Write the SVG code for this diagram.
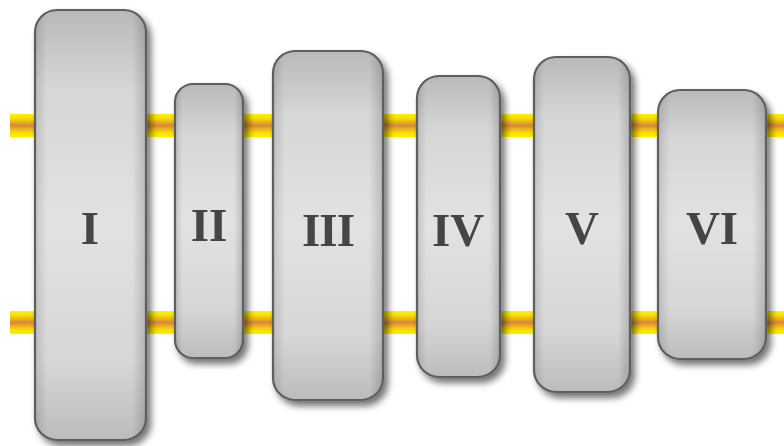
<svg xmlns="http://www.w3.org/2000/svg" width="784" height="446" viewBox="0 0 784 446">
<defs>
<linearGradient id="bar" x1="0" y1="0" x2="0" y2="1">
<stop offset="0" stop-color="#fff200"/>
<stop offset="0.2" stop-color="#f9dc00"/>
<stop offset="0.5" stop-color="#d8883c"/>
<stop offset="0.8" stop-color="#f9dc00"/>
<stop offset="1" stop-color="#fff200"/>
</linearGradient>
<linearGradient id="fv" x1="0" y1="0" x2="0" y2="1">
<stop offset="0" stop-color="#b9b9b9"/>
<stop offset="0.18" stop-color="#d6d6d6"/>
<stop offset="0.5" stop-color="#e2e2e2"/>
<stop offset="0.82" stop-color="#d6d6d6"/>
<stop offset="1" stop-color="#bcbcbc"/>
</linearGradient>
<linearGradient id="fh" x1="0" y1="0" x2="1" y2="0">
<stop offset="0" stop-color="#000" stop-opacity="0.12"/>
<stop offset="0.1" stop-color="#000" stop-opacity="0"/>
<stop offset="0.88" stop-color="#000" stop-opacity="0"/>
<stop offset="1" stop-color="#000" stop-opacity="0.16"/>
</linearGradient>
<filter id="sh" x="-20%" y="-10%" width="140%" height="125%">
<feGaussianBlur in="SourceAlpha" stdDeviation="3.5"/>
<feOffset dx="4" dy="5" result="b"/>
<feComponentTransfer><feFuncA type="linear" slope="0.55"/></feComponentTransfer>
<feMerge><feMergeNode/><feMergeNode in="SourceGraphic"/></feMerge>
</filter>
</defs>
<style>
.box{fill:url(#fv);stroke:#5f5f5f;stroke-width:2.2}
.ov{fill:url(#fh);stroke:none}
.lbl{font-family:"Liberation Serif","Times New Roman",serif;font-weight:bold;font-size:47px;fill:#444;text-anchor:middle}
</style>
<g id="membrane">
<rect x="10" y="114" width="774" height="23" fill="url(#bar)"/>
<rect x="10" y="311" width="774" height="23" fill="url(#bar)"/>
</g>
<g id="connectors"/>
<g id="nodeI" filter="url(#sh)">
<rect class="box" x="35" y="10" width="111" height="430" rx="22"/>
<rect class="ov" x="36" y="11" width="109" height="428" rx="21"/>
<text class="lbl" x="90" y="244">I</text>
</g>
<g id="nodeII" filter="url(#sh)">
<rect class="box" x="175" y="84" width="68" height="274" rx="18"/>
<rect class="ov" x="176" y="85" width="66" height="272" rx="17"/>
<text class="lbl" x="209" y="241">II</text>
</g>
<g id="nodeIII" filter="url(#sh)">
<rect class="box" x="273" y="51" width="110" height="349" rx="22"/>
<rect class="ov" x="274" y="52" width="108" height="347" rx="21"/>
<text class="lbl" x="328" y="246" letter-spacing="-1">III</text>
</g>
<g id="nodeIV" filter="url(#sh)">
<rect class="box" x="417" y="76" width="83" height="301" rx="22"/>
<rect class="ov" x="418" y="77" width="81" height="299" rx="21"/>
<text class="lbl" x="458" y="246">IV</text>
</g>
<g id="nodeV" filter="url(#sh)">
<rect class="box" x="534" y="57" width="96" height="335" rx="22"/>
<rect class="ov" x="535" y="58" width="94" height="333" rx="21"/>
<text class="lbl" x="582" y="244">V</text>
</g>
<g id="nodeVI" filter="url(#sh)">
<rect class="box" x="658" y="90" width="108" height="269" rx="22"/>
<rect class="ov" x="659" y="91" width="106" height="267" rx="21"/>
<text class="lbl" x="712" y="244">VI</text>
</g>
</svg>
